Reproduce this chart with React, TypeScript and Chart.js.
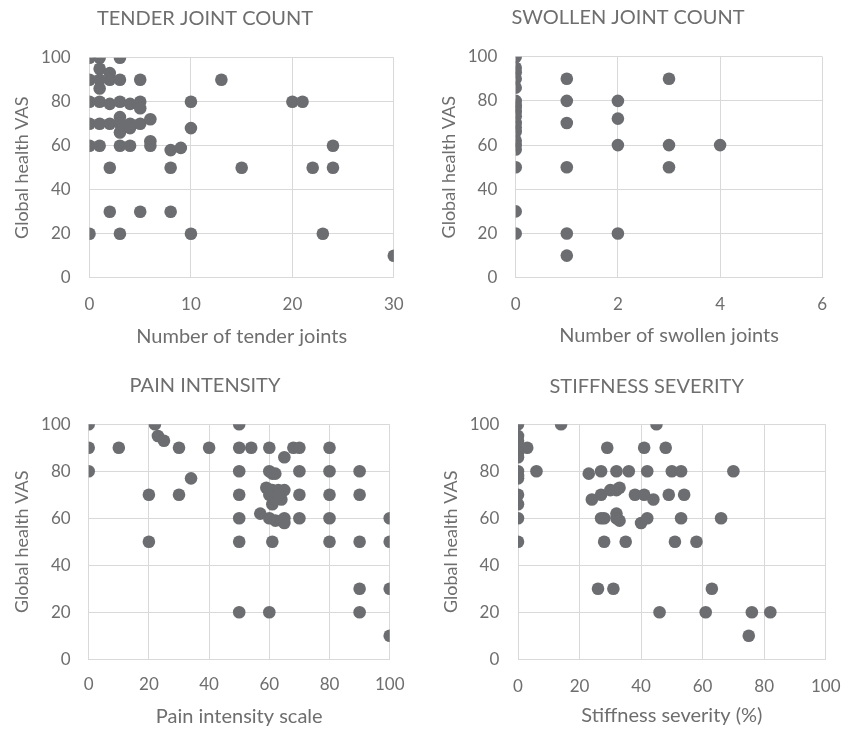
import React, { useEffect, useRef } from "react";
import { Chart, registerables } from "chart.js";

Chart.register(...registerables);

// ---------- data ----------
const tenderX = [0, 1, 3, 1, 2, 0, 1, 2, 3, 5, 13, 1, 0, 1, 2, 3, 4, 5, 5, 10, 20, 21, 0, 1, 2, 3, 3, 3, 4, 4, 5, 6, 10, 0, 1, 3, 4, 6, 6, 8, 9, 24, 2, 8, 15, 22, 24, 2, 5, 8, 0, 3, 10, 23, 30];
const tenderY = [100, 100, 100, 95, 93, 90, 90, 90, 90, 90, 90, 86, 80, 80, 79, 80, 79, 80, 77, 80, 80, 80, 70, 70, 70, 73, 70, 66, 70, 68, 70, 72, 68, 60, 60, 60, 60, 62, 60, 58, 59, 60, 50, 50, 50, 50, 50, 30, 30, 30, 20, 20, 20, 20, 10];

const swollenX = [0, 0, 0, 0, 0, 0, 0, 0, 0, 0, 0, 0, 0, 0, 0, 0, 0, 0, 0, 1, 1, 1, 1, 1, 1, 2, 2, 2, 2, 3, 3, 3, 4];
const swollenY = [100, 95, 93, 90, 86, 80, 78, 77, 75, 73, 70, 68, 66, 62, 60, 58, 50, 30, 20, 90, 80, 70, 50, 20, 10, 80, 72, 60, 20, 90, 60, 50, 60];

const painX = [0, 0, 0, 10, 22, 23, 25, 30, 40, 34, 20, 30, 20, 50, 50, 50, 50, 50, 50, 50, 54, 60, 65, 68, 70, 80, 60, 61, 62, 70, 80, 90, 59, 61, 60, 62, 63, 64, 65, 61, 62, 63, 57, 60, 62, 64, 65, 65, 61, 60, 70, 70, 80, 80, 80, 90, 90, 90, 90, 100, 100, 100, 100];
const painY = [100, 90, 80, 90, 100, 95, 93, 90, 90, 77, 70, 70, 50, 100, 90, 80, 70, 60, 50, 20, 90, 90, 86, 90, 90, 90, 80, 79, 79, 80, 80, 80, 73, 72, 70, 70, 72, 68, 72, 66, 68, 70, 62, 60, 59, 59, 60, 58, 50, 20, 70, 60, 70, 60, 50, 70, 50, 30, 20, 60, 50, 30, 10];

const stiffX = [0, 0, 0, 0, 0, 0, 0, 0, 0, 0, 0, 0, 0, 3, 6, 14, 45, 29, 41, 48, 23, 27, 32, 36, 42, 50, 53, 70, 24, 27, 30, 32, 33, 38, 41, 44, 49, 54, 27, 28, 32, 32, 33, 40, 42, 53, 66, 28, 35, 51, 58, 26, 31, 63, 46, 61, 76, 82, 75];
const stiffY = [100, 95, 93, 90, 88, 86, 80, 78, 77, 70, 66, 60, 50, 90, 80, 100, 100, 90, 90, 90, 79, 80, 80, 80, 80, 80, 80, 80, 68, 70, 72, 72, 73, 70, 70, 68, 70, 70, 60, 60, 62, 60, 59, 58, 60, 60, 60, 50, 50, 50, 50, 30, 30, 30, 20, 20, 20, 20, 10];

const yAxisTitle = "Global health VAS";

// ---------- styles ----------
const FONT = "Lato, 'Open Sans', sans-serif";
const TEXT = "#6e6e6e";
const POINT = "#6b6d70";
const GRID = "#d9d9d9";

type Spec = {
  title: string;
  xTitle: string;
  xs: number[];
  ys: number[];
  xMax: number;
  xStep: number;
  left: number;
  top: number;
  w: number;
  h: number;
  areaLeft: number;
  areaRight: number;
  areaTop: number;
  areaBottom: number;
  titleX: number;
  titleCenter: number;
  xTitleCenter: number;
  xTickGap: number;
  yTitleCenter: number;
  yTickGap: number;
};

const TITLE_SIZE = 20;
const X_TITLE_SIZE = 20;
const Y_TITLE_SIZE = 18;
const TICK_SIZE = 17;

function Panel({ s }: { s: Spec }) {
  const ref = useRef<HTMLCanvasElement>(null);
  useEffect(() => {
    const titleLH = TITLE_SIZE * 1.2;
    const xLH = X_TITLE_SIZE * 1.2;
    const yLH = Y_TITLE_SIZE * 1.2;
    const tickLH = TICK_SIZE * 1.2;
    const titleTop = s.titleCenter - titleLH / 2;
    const titleBottom = s.areaTop - titleTop - titleLH;
    // left padding chosen so that the full-width title is centred at titleX
    const padLeft = 2 * s.titleX - s.areaRight;
    const chart = new Chart(ref.current as HTMLCanvasElement, {
      type: "scatter",
      data: {
        datasets: [
          {
            data: s.xs.map((x, i) => ({ x, y: s.ys[i] })),
            backgroundColor: POINT,
            borderColor: POINT,
            borderWidth: 0,
            pointRadius: 6.3,
            pointHoverRadius: 6.3,
          },
        ],
      },
      options: {
        responsive: false,
        animation: false,
        devicePixelRatio: 1,
        events: [],
        layout: { padding: { left: padLeft, top: 0, bottom: 0, right: s.w - s.areaRight } },
        plugins: {
          legend: { display: false },
          tooltip: { enabled: false },
          title: {
            display: true,
            text: s.title,
            color: TEXT,
            font: { family: FONT, size: TITLE_SIZE, weight: "normal" },
            padding: { top: titleTop, bottom: titleBottom },
          },
        },
        scales: {
          x: {
            type: "linear",
            min: 0,
            max: s.xMax,
            ticks: {
              stepSize: s.xStep,
              color: TEXT,
              font: { family: FONT, size: TICK_SIZE },
              padding: s.xTickGap - tickLH / 2,
              maxRotation: 0,
            },
            grid: { color: GRID, drawTicks: false, lineWidth: 1 },
            border: { color: GRID },
            title: {
              display: true,
              text: s.xTitle,
              color: TEXT,
              font: { family: FONT, size: X_TITLE_SIZE },
              padding: { top: 0, bottom: s.h - s.xTitleCenter - xLH / 2 },
            },
            afterFit: (sc: any) => {
              sc.height = s.h - s.areaBottom;
            },
          },
          y: {
            type: "linear",
            min: 0,
            max: 100,
            ticks: {
              stepSize: 20,
              color: TEXT,
              font: { family: FONT, size: TICK_SIZE },
              padding: s.yTickGap,
            },
            grid: { color: GRID, drawTicks: false, lineWidth: 1 },
            border: { color: GRID },
            title: {
              display: true,
              text: yAxisTitle,
              color: TEXT,
              font: { family: FONT, size: Y_TITLE_SIZE },
              padding: { top: s.yTitleCenter - padLeft - yLH / 2, bottom: 0 },
            },
            afterFit: (sc: any) => {
              sc.width = s.areaLeft - padLeft;
            },
          },
        },
      },
    } as any);
    return () => chart.destroy();
  }, []);
  return (
    <canvas
      ref={ref}
      width={s.w}
      height={s.h}
      style={{ position: "absolute", left: s.left, top: s.top, width: s.w, height: s.h }}
    />
  );
}

const specs: Spec[] = [
  {
    title: "TENDER JOINT COUNT",
    xTitle: "Number of tender joints",
    xs: tenderX,
    ys: tenderY,
    xMax: 30,
    xStep: 10,
    left: 0,
    top: 0,
    w: 420,
    h: 360,
    areaLeft: 89.5,
    areaRight: 395,
    areaTop: 57.7,
    areaBottom: 277.7,
    titleX: 205,
    titleCenter: 19,
    xTitleCenter: 336.3,
    xTickGap: 26.5,
    yTitleCenter: 22.5,
    yTickGap: 18.8,
  },
  {
    title: "SWOLLEN JOINT COUNT",
    xTitle: "Number of swollen joints",
    xs: swollenX,
    ys: swollenY,
    xMax: 6,
    xStep: 2,
    left: 420,
    top: 0,
    w: 425,
    h: 360,
    areaLeft: 95.7,
    areaRight: 402.3,
    areaTop: 56.7,
    areaBottom: 277.7,
    titleX: 208,
    titleCenter: 18,
    xTitleCenter: 336,
    xTickGap: 27.3,
    yTitleCenter: 29,
    yTickGap: 18.4,
  },
  {
    title: "PAIN INTENSITY",
    xTitle: "Pain intensity scale",
    xs: painX,
    ys: painY,
    xMax: 100,
    xStep: 20,
    left: 0,
    top: 360,
    w: 420,
    h: 375,
    areaLeft: 88.7,
    areaRight: 390.7,
    areaTop: 64.3,
    areaBottom: 299.3,
    titleX: 205,
    titleCenter: 25.8,
    xTitleCenter: 356.5,
    xTickGap: 25.7,
    yTitleCenter: 22,
    yTickGap: 18,
  },
  {
    title: "STIFFNESS SEVERITY",
    xTitle: "Stiffness severity (%)",
    xs: stiffX,
    ys: stiffY,
    xMax: 100,
    xStep: 20,
    left: 420,
    top: 360,
    w: 440,
    h: 375,
    areaLeft: 98,
    areaRight: 405.7,
    areaTop: 64.3,
    areaBottom: 299.3,
    titleX: 226.7,
    titleCenter: 27,
    xTitleCenter: 356,
    xTickGap: 27,
    yTitleCenter: 31,
    yTickGap: 18.7,
  },
];

export default function App() {
  return (
    <div
      style={{
        position: "absolute",
        left: 0,
        top: 0,
        width: 845,
        height: 735,
        overflow: "hidden",
        background: "#ffffff",
      }}
    >
      {specs.map((s) => (
        <Panel key={s.title} s={s} />
      ))}
    </div>
  );
}
